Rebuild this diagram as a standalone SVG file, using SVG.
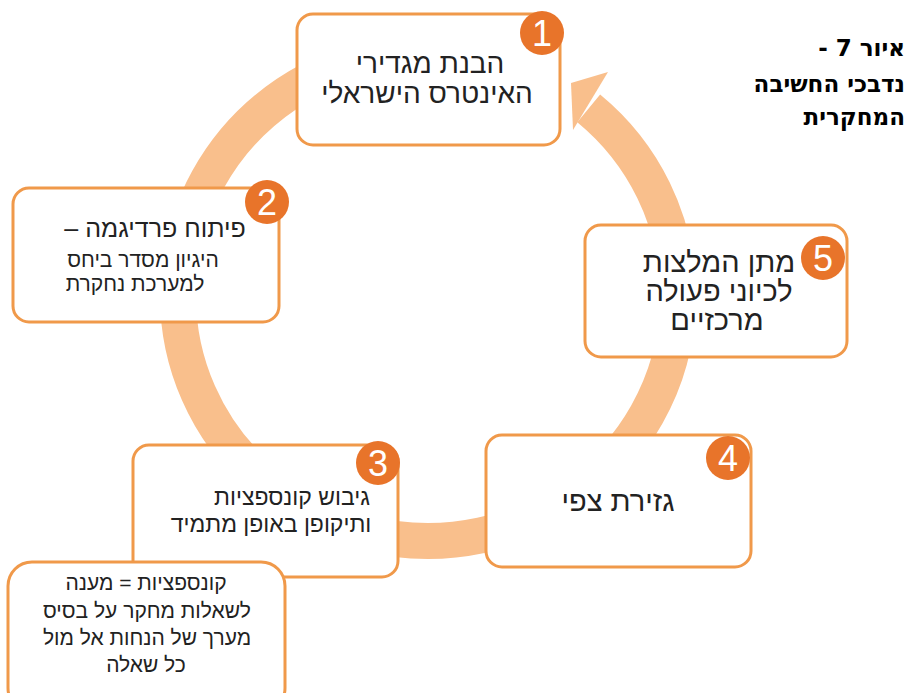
<svg xmlns="http://www.w3.org/2000/svg" width="911" height="693" viewBox="0 0 911 693">
<style>
.box{fill:#fff;stroke:#F0994A;stroke-width:3}
.badge{fill:#E8742A}
.num{fill:#fff;font-family:"Liberation Sans","DejaVu Sans",sans-serif;font-size:36px;text-anchor:middle}
.t{fill:#222;font-family:"Liberation Sans","DejaVu Sans",sans-serif;text-anchor:middle;direction:rtl}
.title{fill:#000;font-family:"DejaVu Sans","Liberation Sans",sans-serif;font-weight:bold;font-size:23px;direction:rtl;text-anchor:start}
</style>
<rect width="911" height="693" fill="#fff"/>
<g id="connectors">
<path d="M 588.7 108.3 A 250 245 0 1 1 384.6 54.7" fill="none" stroke="#F9BF8C" stroke-width="36"/>
<polygon points="571,83 608,72 573,130" fill="#F9BF8C"/>
</g>
<g id="node1">
<rect class="box" x="297" y="14" width="263" height="131" rx="16"/>
<circle class="badge" cx="542" cy="33" r="22"/>
<text class="num" x="542" y="46">1</text>
<text class="t" font-size="28" x="430" y="73">הבנת מגדירי</text>
<text class="t" font-size="28" x="427" y="103">האינטרס הישראלי</text>
</g>
<g id="node2">
<rect class="box" x="13" y="188" width="266" height="134" rx="16"/>
<circle class="badge" cx="267" cy="202" r="22"/>
<text class="num" x="267" y="215">2</text>
<text class="t" font-size="25" x="155" y="237">פיתוח פרדיגמה –</text>
<text class="t" font-size="21" x="143" y="267">היגיון מסדר ביחס</text>
<text class="t" font-size="21" x="135" y="291">למערכת נחקרת</text>
</g>
<g id="node5">
<rect class="box" x="585" y="225" width="262" height="132" rx="16"/>
<circle class="badge" cx="823" cy="258" r="22"/>
<text class="num" x="823" y="271">5</text>
<text class="t" font-size="29" x="719" y="272">מתן המלצות</text>
<text class="t" font-size="29" x="719" y="301">לכיוני פעולה</text>
<text class="t" font-size="29" x="717" y="330">מרכזיים</text>
</g>
<g id="node4">
<rect class="box" x="486" y="435" width="265" height="132" rx="16"/>
<circle class="badge" cx="728" cy="458" r="22"/>
<text class="num" x="728" y="471">4</text>
<text class="t" font-size="29" x="618" y="511">גזירת צפי</text>
</g>
<g id="node3">
<rect class="box" x="133" y="445" width="265" height="132" rx="16"/>
<circle class="badge" cx="378" cy="463" r="22"/>
<text class="num" x="378" y="476">3</text>
<text class="t" font-size="23" x="292" y="505">גיבוש קונספציות</text>
<text class="t" font-size="23" x="271" y="532">ותיקופן באופן מתמיד</text>
</g>
<g id="callout">
<rect class="box" x="8" y="562" width="277" height="150" rx="24"/>
<text class="t" font-size="21" x="146" y="590">קונספציות = מענה</text>
<text class="t" font-size="21" x="147" y="618">לשאלות מחקר על בסיס</text>
<text class="t" font-size="21" x="147" y="645">מערך של הנחות אל מול</text>
<text class="t" font-size="21" x="146" y="672">כל שאלה</text>
</g>
<g id="title">
<text class="title" x="905" y="56">איור 7 -</text>
<text class="title" x="905" y="92">נדבכי החשיבה</text>
<text class="title" x="905" y="125">המחקרית</text>
</g>
</svg>
